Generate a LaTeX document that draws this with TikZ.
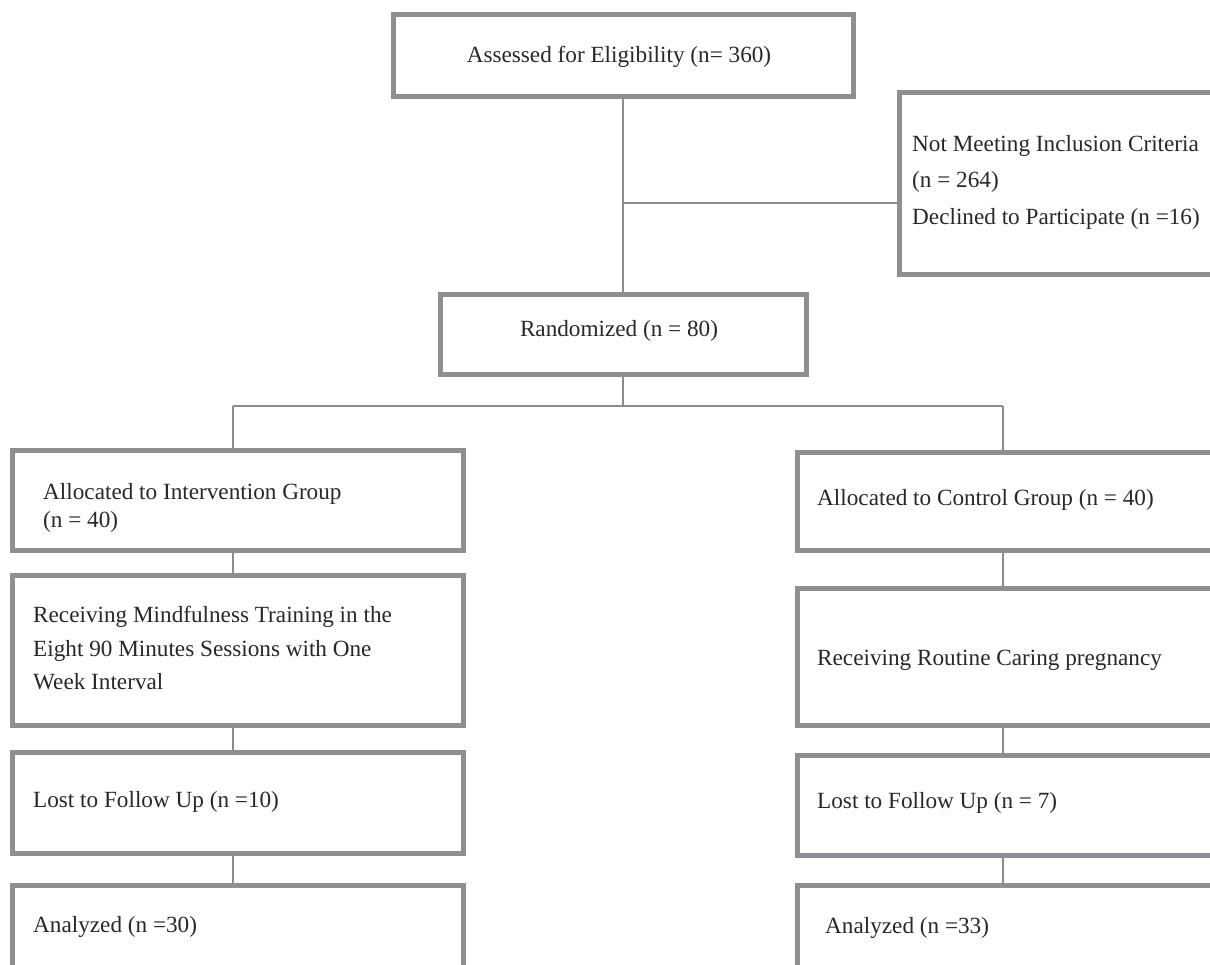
\documentclass[tikz,border=0pt]{standalone}
\usepackage{fontspec}
\setmainfont{Liberation Serif}
\definecolor{boxgray}{RGB}{143,143,147}
\definecolor{linegray}{RGB}{140,140,143}
\definecolor{txt}{RGB}{40,40,40}
\tikzset{
  box/.style={draw=boxgray, line width=5pt, rectangle, inner sep=0pt, fill=white},
  conn/.style={draw=linegray, line width=2pt},
  lbl/.style={anchor=base west, inner sep=0pt, text=txt, font=\fontsize{23.2}{28}\selectfont},
  clbl/.style={anchor=base, inner sep=0pt, text=txt, font=\fontsize{23.2}{28}\selectfont}
}
\begin{document}
\begin{tikzpicture}[x=1pt,y=-1pt]
\useasboundingbox (0,0) rectangle (1210,965);
\clip (0,0) rectangle (1210,965);
\fill[white] (0,0) rectangle (1210,965);
% boxes
\node[box, minimum width=460pt, minimum height=82pt] (b1) at (623,56) {};
\node[box, minimum width=331pt, minimum height=182pt] (excl) at (1064.5,184) {};
\node[box, minimum width=366pt, minimum height=80pt] (rand) at (623,335) {};
\node[box, minimum width=451pt, minimum height=100pt] (allocL) at (237.5,500) {};
\node[box, minimum width=433pt, minimum height=98pt] (allocR) at (1013.5,501) {};
\node[box, minimum width=451pt, minimum height=150pt] (recvL) at (237.5,650) {};
\node[box, minimum width=433pt, minimum height=137pt] (recvR) at (1013.5,656.5) {};
\node[box, minimum width=451pt, minimum height=101pt] (lostL) at (237.5,802.5) {};
\node[box, minimum width=433pt, minimum height=100pt] (lostR) at (1013.5,805) {};
\node[box, minimum width=451pt, minimum height=105pt] (anaL) at (237.5,937.5) {};
\node[box, minimum width=433pt, minimum height=130pt] (anaR) at (1013.5,950) {};
% connectors
\coordinate (j1) at (623,203);
\coordinate (j2) at (623,406);
\coordinate (jL) at (233,406);
\coordinate (jR) at (1003,406);
\draw[conn] (b1.south) -- (rand.north);
\draw[conn] (j1) -- (excl.west |- j1);
\draw[conn] (rand.south) -- (j2);
\draw[conn] (jL) -- (jR);
\draw[conn] (jL) -- (jL |- allocL.north);
\draw[conn] (jR) -- (jR |- allocR.north);
\draw[conn] (jL |- allocL.south) -- (jL |- recvL.north);
\draw[conn] (jR |- allocR.south) -- (jR |- recvR.north);
\draw[conn] (jL |- recvL.south) -- (jL |- lostL.north);
\draw[conn] (jR |- recvR.south) -- (jR |- lostR.north);
\draw[conn] (jL |- lostL.south) -- (jL |- anaL.north);
\draw[conn] (jR |- lostR.south) -- (jR |- anaR.north);
% texts
\node[clbl] (t1) at (619,63) {Assessed for Eligibility (n= 360)};
\node[lbl] (t2a) at (912,152) {Not Meeting Inclusion Criteria};
\node[lbl] (t2b) at (912,188) {(n = 264)};
\node[lbl] (t2c) at (912,225) {Declined to Participate (n =16)};
\node[clbl] (t3) at (619,337) {Randomized (n = 80)};
\node[lbl] (t4a) at (43,499) {Allocated to Intervention Group};
\node[lbl] (t4b) at (43,527) {(n = 40)};
\node[lbl] (t5) at (817,505) {Allocated to Control Group (n = 40)};
\node[lbl] (t6a) at (33,622) {Receiving Mindfulness Training in the};
\node[lbl] (t6b) at (33,656) {Eight 90 Minutes Sessions with One};
\node[lbl] (t6c) at (33,689) {Week Interval};
\node[lbl] (t7) at (817,665) {Receiving Routine Caring pregnancy};
\node[lbl] (t8) at (33,807) {Lost to Follow Up (n =10)};
\node[lbl] (t9) at (817,808) {Lost to Follow Up (n = 7)};
\node[lbl] (t10) at (33,932) {Analyzed (n =30)};
\node[lbl] (t11) at (825,933) {Analyzed (n =33)};
\end{tikzpicture}
\end{document}
